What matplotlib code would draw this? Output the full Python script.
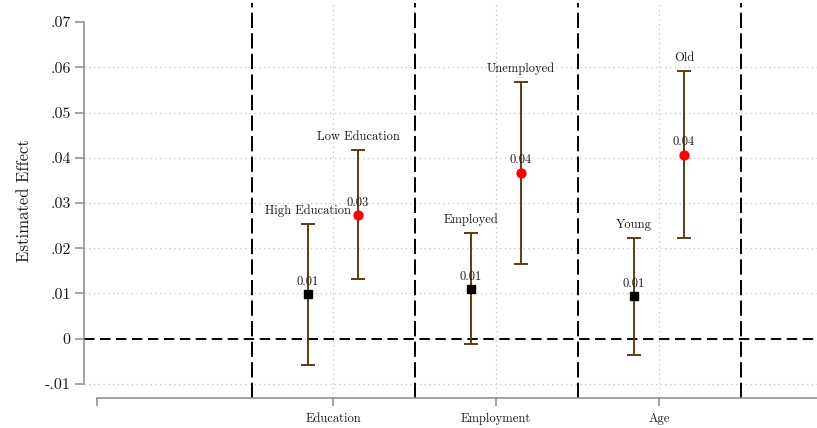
import matplotlib
matplotlib.use("Agg")
import matplotlib.pyplot as plt
import numpy as np

plt.rcParams["font.family"] = ["cmr10", "DejaVu Serif"]
plt.rcParams["mathtext.fontset"] = "cm"
plt.rcParams["axes.formatter.use_mathtext"] = True
plt.rcParams["lines.scale_dashes"] = False

# Subgroup estimates with 95% confidence intervals
groups = ["Education", "Employment", "Age"]
labels_a = ["High Education", "Employed", "Young"]
labels_b = ["Low Education", "Unemployed", "Old"]

est_a = [0.0098, 0.0110, 0.0094]
lo_a = [-0.0057, -0.0011, -0.0035]
hi_a = [0.0254, 0.0234, 0.0223]

est_b = [0.0274, 0.0367, 0.0407]
lo_b = [0.0133, 0.0166, 0.0223]
hi_b = [0.0418, 0.0568, 0.0592]

yticks = [-0.01, 0.0, 0.01, 0.02, 0.03, 0.04, 0.05, 0.06, 0.07]
ytick_labels = ["-.01", "0", ".01", ".02", ".03", ".04", ".05", ".06", ".07"]

W, H = 817, 428
fig = plt.figure(figsize=(W / 100, H / 100), dpi=100)
ax = fig.add_axes([84 / W, (H - 397.7) / H, (W - 84) / W, (397.7 - 3) / H])

pos = np.arange(1, len(groups) + 1)
offset = 0.153
x_a = pos - offset
x_b = pos + offset

ax.set_xlim(-0.528, 3.969)
ax.set_ylim(-0.01303, 0.0742)

grid_kw = dict(color="#c8c8c8", lw=0.9, ls=(0, (1, 2.4)), zorder=0)
for yv in yticks[:-1]:
    if yv != 0:
        ax.axhline(yv, **grid_kw)
for xv in pos:
    ax.axvline(xv, **grid_kw)

# Group separators and the zero reference line
for xv in np.arange(0.5, len(groups) + 1, 1.0):
    ax.axvline(xv, color="black", lw=1.4, ls=(0, (11, 3.8)), zorder=1)
ax.axhline(0, color="black", lw=1.4, ls=(0, (7.5, 4)), zorder=1)

ci_color = "#5b3d14"
est_a = np.array(est_a); est_b = np.array(est_b)
ax.errorbar(x_a, est_a, yerr=[est_a - np.array(lo_a), np.array(hi_a) - est_a],
            fmt="none", ecolor=ci_color, elinewidth=1.4, capsize=4.7, capthick=1.4, zorder=2)
ax.errorbar(x_b, est_b, yerr=[est_b - np.array(lo_b), np.array(hi_b) - est_b],
            fmt="none", ecolor=ci_color, elinewidth=1.4, capsize=4.7, capthick=1.4, zorder=2)
ax.plot(x_a, est_a, "s", color="black", ms=5.6, zorder=3)
ax.plot(x_b, est_b, "o", color="#ff0000", ms=7.4, mec="none", zorder=3)

txt_kw = dict(fontsize=9, color="#1a1a1a", ha="center", va="bottom",
              textcoords="offset points", zorder=4)
for xs, ys, his, names in [(x_a, est_a, hi_a, labels_a), (x_b, est_b, hi_b, labels_b)]:
    for xv, yv, hv, name in zip(xs, ys, his, names):
        ax.annotate(f"{yv:.2f}", (xv, yv), xytext=(0, 4.5), **txt_kw)
        ax.annotate(name, (xv, hv), xytext=(0, 5), **txt_kw)

# Axes styling
axis_gray = "#8a8a8a"
for side in ["top", "right"]:
    ax.spines[side].set_visible(False)
ax.spines["left"].set_bounds(-0.01, 0.07)
ax.spines["bottom"].set_bounds(-0.45, 3.969)
for side in ["left", "bottom"]:
    ax.spines[side].set_color(axis_gray)
    ax.spines[side].set_linewidth(1.1)

ax.set_yticks(yticks)
ax.set_yticklabels(ytick_labels)
ax.set_xticks([-0.45] + list(pos))
ax.set_xticklabels([""] + groups)
ax.tick_params(axis="y", length=6.5, width=1.1, color=axis_gray, labelsize=11.5, pad=3,
               labelcolor="#1a1a1a")
ax.tick_params(axis="x", length=5.5, width=1.1, color=axis_gray, labelsize=9, pad=5.5,
               labelcolor="#1a1a1a")
ax.set_ylabel("Estimated Effect", fontsize=12, color="#1a1a1a", labelpad=9)

fig.savefig("out.png", dpi=100)
